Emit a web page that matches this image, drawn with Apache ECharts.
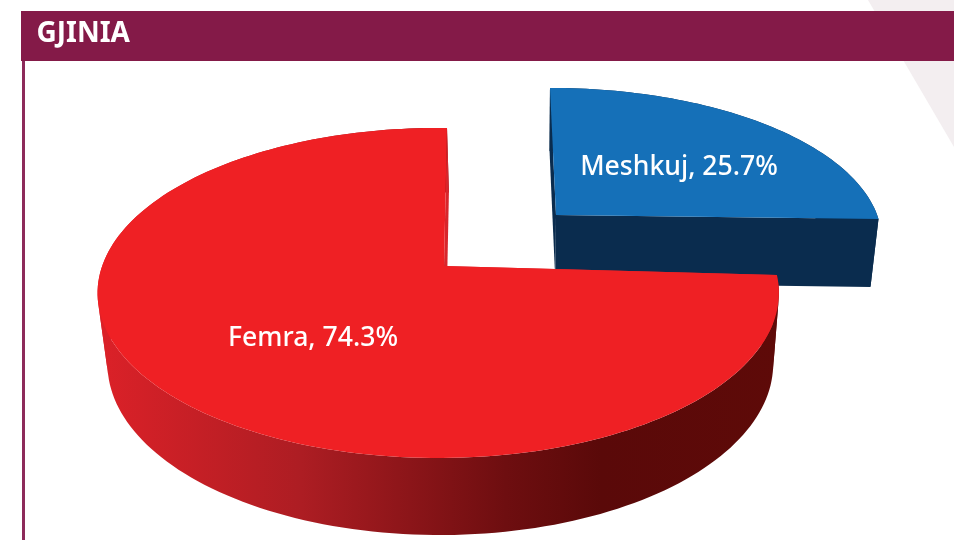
<!DOCTYPE html>
<html><head><meta charset="utf-8">
<style>html,body{margin:0;padding:0;background:#fff}#c{width:954px;height:540px}</style>
<script src="https://cdn.jsdelivr.net/npm/echarts@6/dist/echarts.min.js"></script>
</head><body><div id="c"></div>
<script>
const titleText = 'GJINIA';
const categories = ['Meshkuj', 'Femra'];
const shares = [25.7, 74.3];

// Perspective view of each slice's disc (a slice is exploded, so each has its own)
const views = [
  {cx:556, cy:215, A:325, B:147.8, S:7,    C:-2.5, p:0.1636, q:0.015, labelX:679, labelY:167},
  {cx:444, cy:266, A:336, B:160.6, S:-3.5, C:2,    p:0.1636, q:0.015, labelX:313, labelY:338}
];
const BLUE_TOP='#1570b8', BLUE_WALL='#0a2c4e', RED_TOP='#ef2024';
const RED_WALL={type:'linear',x:97,y:0,x2:778,y2:0,global:true,colorStops:[
  {offset:0,color:'#dc2128'},{offset:0.3,color:'#ad1d23'},{offset:0.6,color:'#6e0e10'},
  {offset:0.74,color:'#5a0909'},{offset:1,color:'#5e0a08'}]};
const tops=[BLUE_TOP,RED_TOP], walls=[BLUE_WALL,RED_WALL], radial=[BLUE_WALL,'#d8262c'];

function project(v,deg,r){
  const t=deg*Math.PI/180, a=r*Math.sin(t), b=-r*Math.cos(t);
  const w=1-v.p*b+v.q*a;
  return [v.cx+(v.A*a+v.S*b)/w, v.cy+(v.C*a+v.B*b)/w];
}
function drop(pt){ // point at the foot of the disc's wall
  return [530+(pt[0]-530)*0.977, pt[1]+71+(pt[1]-298)*0.0377];
}
function area(q){
  let s=0; for(let i=0;i<q.length;i++){const a=q[i],b=q[(i+1)%q.length]; s+=a[0]*b[1]-b[0]*a[1];}
  return s;
}
const total=shares.reduce((s,x)=>s+x,0);
function renderItem(params,api){
  const i=params.dataIndex, val=api.value(0);
  let start=0; for(let k=0;k<i;k++) start+=shares[k]/total*360;
  const end=start+val/total*360, v=views[i];
  const arc=[]; const n=Math.max(8,Math.round((end-start)/1.5));
  for(let k=0;k<=n;k++) arc.push(project(v,start+(end-start)*k/n,1));
  const apex=[v.cx,v.cy], foot=arc.map(drop);
  const poly=(pts,fill)=>({type:'polygon',shape:{points:pts},style:{fill:fill,stroke:null}});
  // The wall folds at the disc's left and right extremes: one polygon per unfolded run
  const strips=[]; let from=0, sign=0;
  for(let k=0;k<n;k++){
    const s=Math.sign(area([arc[k],arc[k+1],foot[k+1],foot[k]]));
    if(sign&&s!==sign){strips.push([from,k]);from=k;}
    sign=s;
  }
  strips.push([from,n]);
  const a0=arc[0], a1=arc[n];
  const children=[poly([a0,drop(a0),drop(apex),apex],radial[i])];
  strips.forEach(r=>children.push(poly(arc.slice(r[0],r[1]+1).concat(foot.slice(r[0],r[1]+1).reverse()),walls[i])));
  children.push(poly([a1,drop(a1),drop(apex),apex],radial[i]));
  children.push(poly([apex].concat(arc),tops[i]));
  children.push({type:'text',x:v.labelX,y:v.labelY,style:{text:categories[i]+', '+val+'%',
      x:0,y:0,fill:'#fff',font:'500 26.6px "Noto Sans"',align:'center',verticalAlign:'middle'}});
  return {type:'group',children:children};
}
const chart=echarts.init(document.getElementById('c'),null,{renderer:'canvas'});
chart.setOption({
  animation:false,
  backgroundColor:'#ffffff',
  title:{text:titleText,left:36.5,top:15,padding:0,textStyle:{color:'#fff',fontFamily:'"Noto Sans"',fontWeight:700,fontSize:28,lineHeight:38}},
  graphic:[
    {type:'polygon',z:0,silent:true,shape:{points:[[868,0],[954,0],[954,147]]},style:{fill:'#f3eef0'}},
    {type:'rect',z:1,silent:true,shape:{x:21,y:11,width:933,height:50},style:{fill:'#841a48'}},
    {type:'rect',z:1,silent:true,shape:{x:22,y:61,width:3,height:479},style:{fill:'#8d2a5a'}}
  ],
  series:[{type:'custom',coordinateSystem:'none',renderItem:renderItem,
    data:shares.map((s,i)=>({name:categories[i],value:[s]})),encode:{value:0}}]
});
</script></body></html>
